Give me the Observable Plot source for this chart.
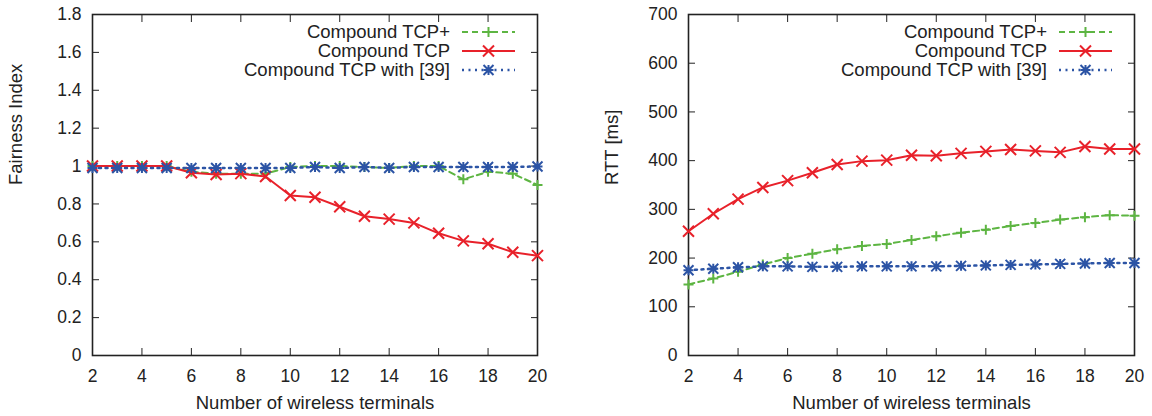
<!DOCTYPE html>
<html><head><meta charset="utf-8">
<script src="https://cdn.jsdelivr.net/npm/d3@7"></script>
<script src="https://cdn.jsdelivr.net/npm/@observablehq/plot@0.6"></script>
<style>
body{margin:0;background:#fff}
#wrap{display:flex;width:1152px;height:416px}
svg{font-family:"Liberation Sans",Arial,sans-serif}
</style>
</head><body><div id="wrap"></div>
<script>
const terminals = [2,3,4,5,6,7,8,9,10,11,12,13,14,15,16,17,18,19,20];
const seriesNames = ["Compound TCP+", "Compound TCP", "Compound TCP with [39]"];

const fairTcpPlus = [1.0,1.0,1.0,1.0,0.97,0.96,0.96,0.96,0.995,1.0,1.0,0.995,0.99,1.0,1.0,0.93,0.97,0.96,0.90];
const fairTcp     = [1.0,1.0,1.0,1.0,0.965,0.955,0.96,0.945,0.845,0.835,0.785,0.735,0.72,0.70,0.645,0.605,0.59,0.545,0.527];
const fairTcp39   = [0.99,0.99,0.99,0.99,0.99,0.99,0.99,0.99,0.99,0.995,0.99,0.995,0.99,0.995,0.995,0.995,0.995,0.995,0.998];

const rttTcpPlus = [146,158,172,187,200,209,218,225,229,237,245,252,258,266,272,279,284,288,287];
const rttTcp     = [255,291,321,345,359,375,392,399,401,411,410,415,419,423,420,417,429,424,424];
const rttTcp39   = [175,178,181,183,183,182,182,183,183,183,183,184,185,186,187,188,189,190,190];

const xTicks = [2,4,6,8,10,12,14,16,18,20];
const fairTicks = [0,0.2,0.4,0.6,0.8,1,1.2,1.4,1.6,1.8];
const rttTicks = [0,100,200,300,400,500,600,700];

function crossSym(h, plus, times) {
  return {draw(ctx) {
    if (plus) { ctx.moveTo(-h,0); ctx.lineTo(h,0); ctx.moveTo(0,-h); ctx.lineTo(0,h); }
    if (times) { ctx.moveTo(-h,-h); ctx.lineTo(h,h); ctx.moveTo(-h,h); ctx.lineTo(h,-h); }
  }};
}
const styles = [
  {color:"#5db542", dash:"6,4", width:2, sym: crossSym(5, true, false)},
  {color:"#e8212a", dash:null, width:2, sym: crossSym(5.5, false, true)},
  {color:"#2c54a5", dash:"2,4.5", width:2.5, sym: crossSym(5, true, true)}
];

function makeChart({series, yDomain, yTicks, yLabel, marginLeft, marginRight}) {
  const fs = 17.5, ls = 18.5;
  const marks = [
    Plot.axisX({ticks: xTicks, anchor:"bottom", tickSize:-7, tickPadding:21, fontSize:fs, label:null, stroke:"#222"}),
    Plot.axisX({ticks: xTicks, anchor:"top", tickSize:-7, tickFormat:()=>"", label:null, stroke:"#222"}),
    Plot.axisY({ticks: yTicks, anchor:"left", tickSize:-7, tickPadding:18, fontSize:fs, tickFormat:d=>String(d), label:null, stroke:"#222"}),
    Plot.axisY({ticks: yTicks, anchor:"right", tickSize:-7, tickFormat:()=>"", label:null, stroke:"#222"}),
    Plot.frame({stroke:"#222", strokeWidth:1.6}),
    Plot.text([yLabel], {frameAnchor:"left", dx:-76, rotate:-90, fontSize:ls, fill:"#222"}),
    Plot.text(["Number of wireless terminals"], {frameAnchor:"bottom", dy:53, fontSize:ls, fill:"#222"})
  ];
  series.forEach((vals, i) => {
    const st = styles[i];
    const data = terminals.map((t, j) => ({x:t, y:vals[j]}));
    marks.push(Plot.line(data, {x:"x", y:"y", stroke:st.color, strokeWidth:st.width, strokeDasharray:st.dash}));
    marks.push(Plot.dot(data, {x:"x", y:"y", symbol:st.sym, stroke:st.color, fill:"none", strokeWidth:2}));
  });
  const chart = Plot.plot({
    width: 576, height: 416,
    marginLeft, marginRight, marginTop: 14, marginBottom: 61,
    style: {fontFamily:'"Liberation Sans", Arial, sans-serif', background:"#fff", color:"#222"},
    x: {domain:[2,20]},
    y: {domain:yDomain},
    marks
  });
  // legend
  const svg = d3.select(chart);
  const fr = 576 - marginRight;
  const g = svg.append("g").attr("font-size", ls).attr("fill", "#222");
  seriesNames.forEach((name, i) => {
    const st = styles[i];
    const y = 32 + 19 * i;
    g.append("text").attr("x", fr - 87).attr("y", y).attr("dy", "0.35em").attr("text-anchor", "end").text(name);
    const ln = g.append("line").attr("x1", fr - 75).attr("x2", fr - 22).attr("y1", y).attr("y2", y)
      .attr("stroke", st.color).attr("stroke-width", st.width);
    if (st.dash) ln.attr("stroke-dasharray", st.dash);
    g.append("path").attr("d", d3.symbol(st.sym)()).attr("transform", `translate(${fr - 48.5},${y})`)
      .attr("stroke", st.color).attr("fill", "none").attr("stroke-width", 2);
  });
  return chart;
}

const wrap = document.getElementById("wrap");
wrap.appendChild(makeChart({series:[fairTcpPlus, fairTcp, fairTcp39], yDomain:[0,1.8], yTicks:fairTicks, yLabel:"Fairness Index", marginLeft:92, marginRight:39}));
wrap.appendChild(makeChart({series:[rttTcpPlus, rttTcp, rttTcp39], yDomain:[0,700], yTicks:rttTicks, yLabel:"RTT [ms]", marginLeft:112, marginRight:18}));
</script>
</body></html>
